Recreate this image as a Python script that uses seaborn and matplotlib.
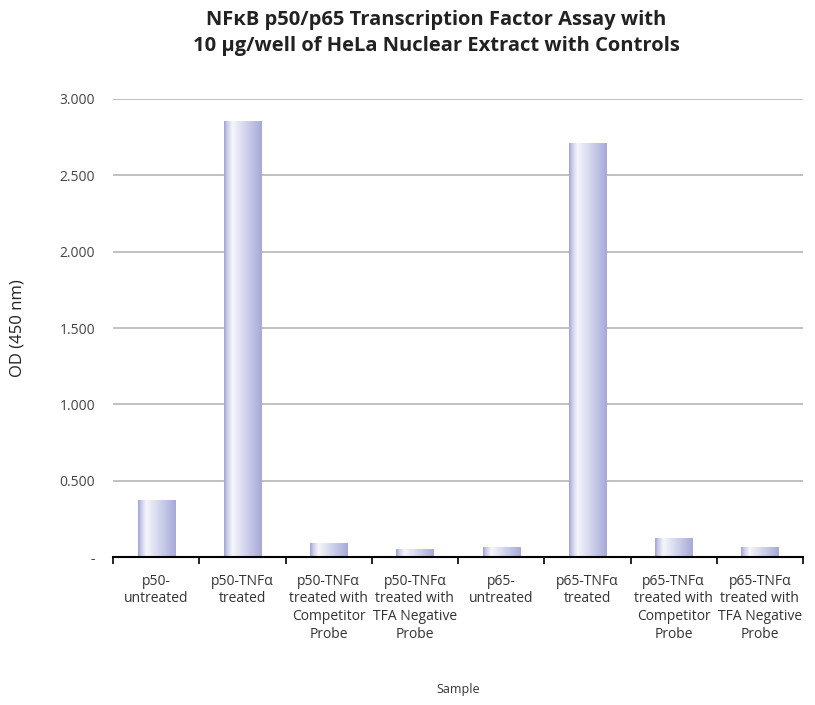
import numpy as np
import pandas as pd
import matplotlib
matplotlib.use("Agg")
import matplotlib.pyplot as plt
import seaborn as sns
from matplotlib.colors import LinearSegmentedColormap

categories = [
    "p50-\nuntreated",
    "p50-TNFα\ntreated",
    "p50-TNFα\ntreated with\nCompetitor\nProbe",
    "p50-TNFα\ntreated with\nTFA Negative\nProbe",
    "p65-\nuntreated",
    "p65-TNFα\ntreated",
    "p65-TNFα\ntreated with\nCompetitor\nProbe",
    "p65-TNFα\ntreated with\nTFA Negative\nProbe",
]
od_values = [0.373, 2.855, 0.092, 0.052, 0.065, 2.71, 0.124, 0.065]
y_ticks = [0, 0.5, 1.0, 1.5, 2.0, 2.5, 3.0]
y_tick_labels = ["-", "0.500", "1.000", "1.500", "2.000", "2.500", "3.000"]

df = pd.DataFrame({"Sample": categories, "OD": od_values})

sns.set_theme(style="white")
plt.rcParams["font.family"] = ["Open Sans", "DejaVu Sans"]

fig = plt.figure(figsize=(8.15, 7.05), dpi=100)
ax = fig.add_axes([113 / 815, 1 - 557 / 705, (803 - 113) / 815, (557 - 99) / 705])

sns.barplot(data=df, x="Sample", y="OD", ax=ax, width=0.43, color="#b0b4dc",
            edgecolor="none", zorder=3)

cmap = LinearSegmentedColormap.from_list(
    "grad", [(0.0, "#9ea2d2"), (0.08, "#c8cae8"), (0.22, "#f6f6fb"),
             (0.55, "#d4d6ee"), (1.0, "#a6a9d6")])
grad = np.linspace(0, 1, 256).reshape(1, -1)
for p in ax.patches:
    x, w, h = p.get_x(), p.get_width(), p.get_height()
    im = ax.imshow(grad, cmap=cmap, extent=[x, x + w, 0, h], aspect="auto",
                   zorder=4, interpolation="bilinear")
    im.set_clip_path(p)

ax.set_xlim(-0.5, len(categories) - 0.5)
ax.set_ylim(0, 3.0)
ax.set_yticks(y_ticks)
ax.set_yticklabels(y_tick_labels, fontsize=10, color="#444444")
ax.yaxis.grid(True, color="#b0b0b0", linewidth=1.1, zorder=0)
ax.tick_params(axis="y", length=0, pad=13)

ax.set_xticks(range(len(categories)))
ax.set_xticklabels(categories, fontsize=10, color="#333333", linespacing=1.25)
ax.set_xticks(np.arange(-0.5, len(categories), 1.0), minor=True)
ax.tick_params(axis="x", which="major", length=0, pad=12)
ax.tick_params(axis="x", which="minor", length=5, width=1.2, color="black",
               direction="out", bottom=True)

for s in ["top", "right", "left"]:
    ax.spines[s].set_visible(False)
ax.spines["bottom"].set_color("black")
ax.spines["bottom"].set_linewidth(1.5)
ax.spines["bottom"].set_zorder(5)

ax.set_xlabel("")
ax.set_ylabel("OD (450 nm)", fontsize=12, color="#222222")
ax.yaxis.set_label_coords((26 - 113) / 690, 0.5)
fig.text(458 / 815, 1 - 690 / 705, "Sample", fontsize=9, color="#333333",
         ha="center", va="center")

fig.text(436 / 815, 1 - 33 / 705,
         "NFκB p50/p65 Transcription Factor Assay with\n10 µg/well of HeLa Nuclear Extract with Controls",
         fontsize=14.5, fontweight="bold", color="#222222", ha="center",
         va="center", linespacing=1.45)

fig.savefig("out.png", dpi=100)
